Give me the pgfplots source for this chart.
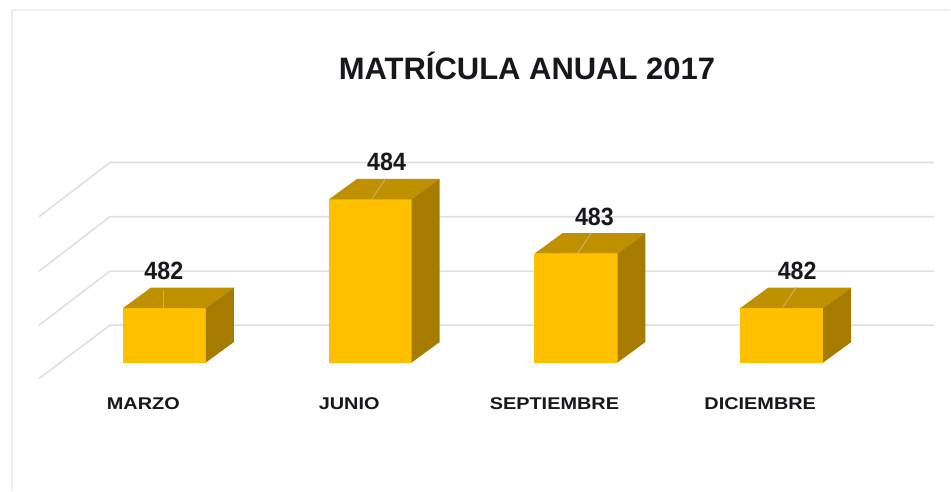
\documentclass[border=0pt]{standalone}
\usepackage{pgfplots}
\pgfplotsset{compat=1.18}
\usepackage{fontspec}
\setmainfont{Liberation Sans}
\definecolor{barfront}{HTML}{FFC000}
\definecolor{bartop}{HTML}{BF9000}
\definecolor{barside}{HTML}{A67C00}
\definecolor{gridc}{HTML}{E0E0E0}
\definecolor{framec}{HTML}{EEEEEE}
\definecolor{leader}{HTML}{C8B070}
\definecolor{txt}{HTML}{16181C}
\begin{document}
\begin{tikzpicture}
\begin{axis}[
  hide axis, clip=false, scale only axis,
  width=951pt, height=491pt,
  xmin=0, xmax=951, ymin=478.651, ymax=487.660,
  every axis plot/.append style={line join=round},
  /pgf/number format/assume math mode=true,
  /pgf/number format/1000 sep={},
]
% page background and frame
\addplot[fill=white,draw=none] coordinates {(0,478.651)(951,478.651)(951,487.660)(0,487.660)} -- cycle;
\addplot[framec,line width=2pt] coordinates {(12,478.651)(12,487.477)(951,487.477)};
% gridlines, back wall
\addplot[gridc,line width=1.6pt] coordinates {(39,480.706)(110,481.686)(935,481.686)};
\addplot[gridc,line width=1.6pt] coordinates {(39,481.686)(110,482.679)(935,482.679)};
\addplot[gridc,line width=1.6pt] coordinates {(39,482.679)(110,483.679)(935,483.679)};
\addplot[gridc,line width=1.6pt] coordinates {(39,483.679)(110,484.675)(935,484.675)};
% MARZO 482
\addplot[fill=barfront,draw=none] coordinates {(123,481)(206,481)(206,482)(123,482)} -- cycle;
\addplot[fill=bartop,draw=none] coordinates {(123,482)(206,482)(234,482.376)(151,482.376)} -- cycle;
\addplot[fill=barside,draw=none] coordinates {(206,481)(234,481.376)(234,482.376)(206,482)} -- cycle;
% JUNIO 484
\addplot[fill=barfront,draw=none] coordinates {(329.5,481)(412,481)(412,484)(329.5,484)} -- cycle;
\addplot[fill=bartop,draw=none] coordinates {(329.5,484)(412,484)(440,484.376)(357.5,484.376)} -- cycle;
\addplot[fill=barside,draw=none] coordinates {(412,481)(440,481.376)(440,484.376)(412,484)} -- cycle;
% SEPTIEMBRE 483
\addplot[fill=barfront,draw=none] coordinates {(535,481)(618,481)(618,483)(535,483)} -- cycle;
\addplot[fill=bartop,draw=none] coordinates {(535,483)(618,483)(646,483.376)(563,483.376)} -- cycle;
\addplot[fill=barside,draw=none] coordinates {(618,481)(646,481.376)(646,483.376)(618,483)} -- cycle;
% DICIEMBRE 482
\addplot[fill=barfront,draw=none] coordinates {(741,481)(824,481)(824,482)(741,482)} -- cycle;
\addplot[fill=bartop,draw=none] coordinates {(741,482)(824,482)(852,482.376)(769,482.376)} -- cycle;
\addplot[fill=barside,draw=none] coordinates {(824,481)(852,481.376)(852,482.376)(824,482)} -- cycle;
% leader lines
\addplot[leader,line width=1pt] coordinates {(164,482)(164,482.33)};
\addplot[leader,line width=1pt] coordinates {(372,484)(386,484.38)};
\addplot[leader,line width=1pt] coordinates {(578,483)(592,483.38)};
\addplot[leader,line width=1pt] coordinates {(783,482)(797,482.38)};
% value labels
\addplot[draw=none,point meta=explicit,nodes near coords,
  every node near coord/.append style={anchor=center,yshift=37pt,text=txt,
    font=\fontsize{25}{25}\selectfont\bfseries,xscale=0.93}]
  coordinates {(164,482)[482] (387,484)[484] (595,483)[483] (798,482)[482]};
% category labels
\node[font=\fontsize{17}{17}\selectfont\bfseries,text=txt,anchor=center,xscale=1.17] at (axis cs:143.5,480.25) {MARZO};
\node[font=\fontsize{17}{17}\selectfont\bfseries,text=txt,anchor=center,xscale=1.17] at (axis cs:349.5,480.25) {JUNIO};
\node[font=\fontsize{17}{17}\selectfont\bfseries,text=txt,anchor=center,xscale=1.17] at (axis cs:555,480.25) {SEPTIEMBRE};
\node[font=\fontsize{17}{17}\selectfont\bfseries,text=txt,anchor=center,xscale=1.17] at (axis cs:761,480.25) {DICIEMBRE};
% title
\node[font=\fontsize{31}{31}\selectfont\bfseries,text=txt,anchor=center] at (axis cs:527.5,486.44) {MATRÍCULA ANUAL 2017};
\end{axis}
\end{tikzpicture}
\end{document}
